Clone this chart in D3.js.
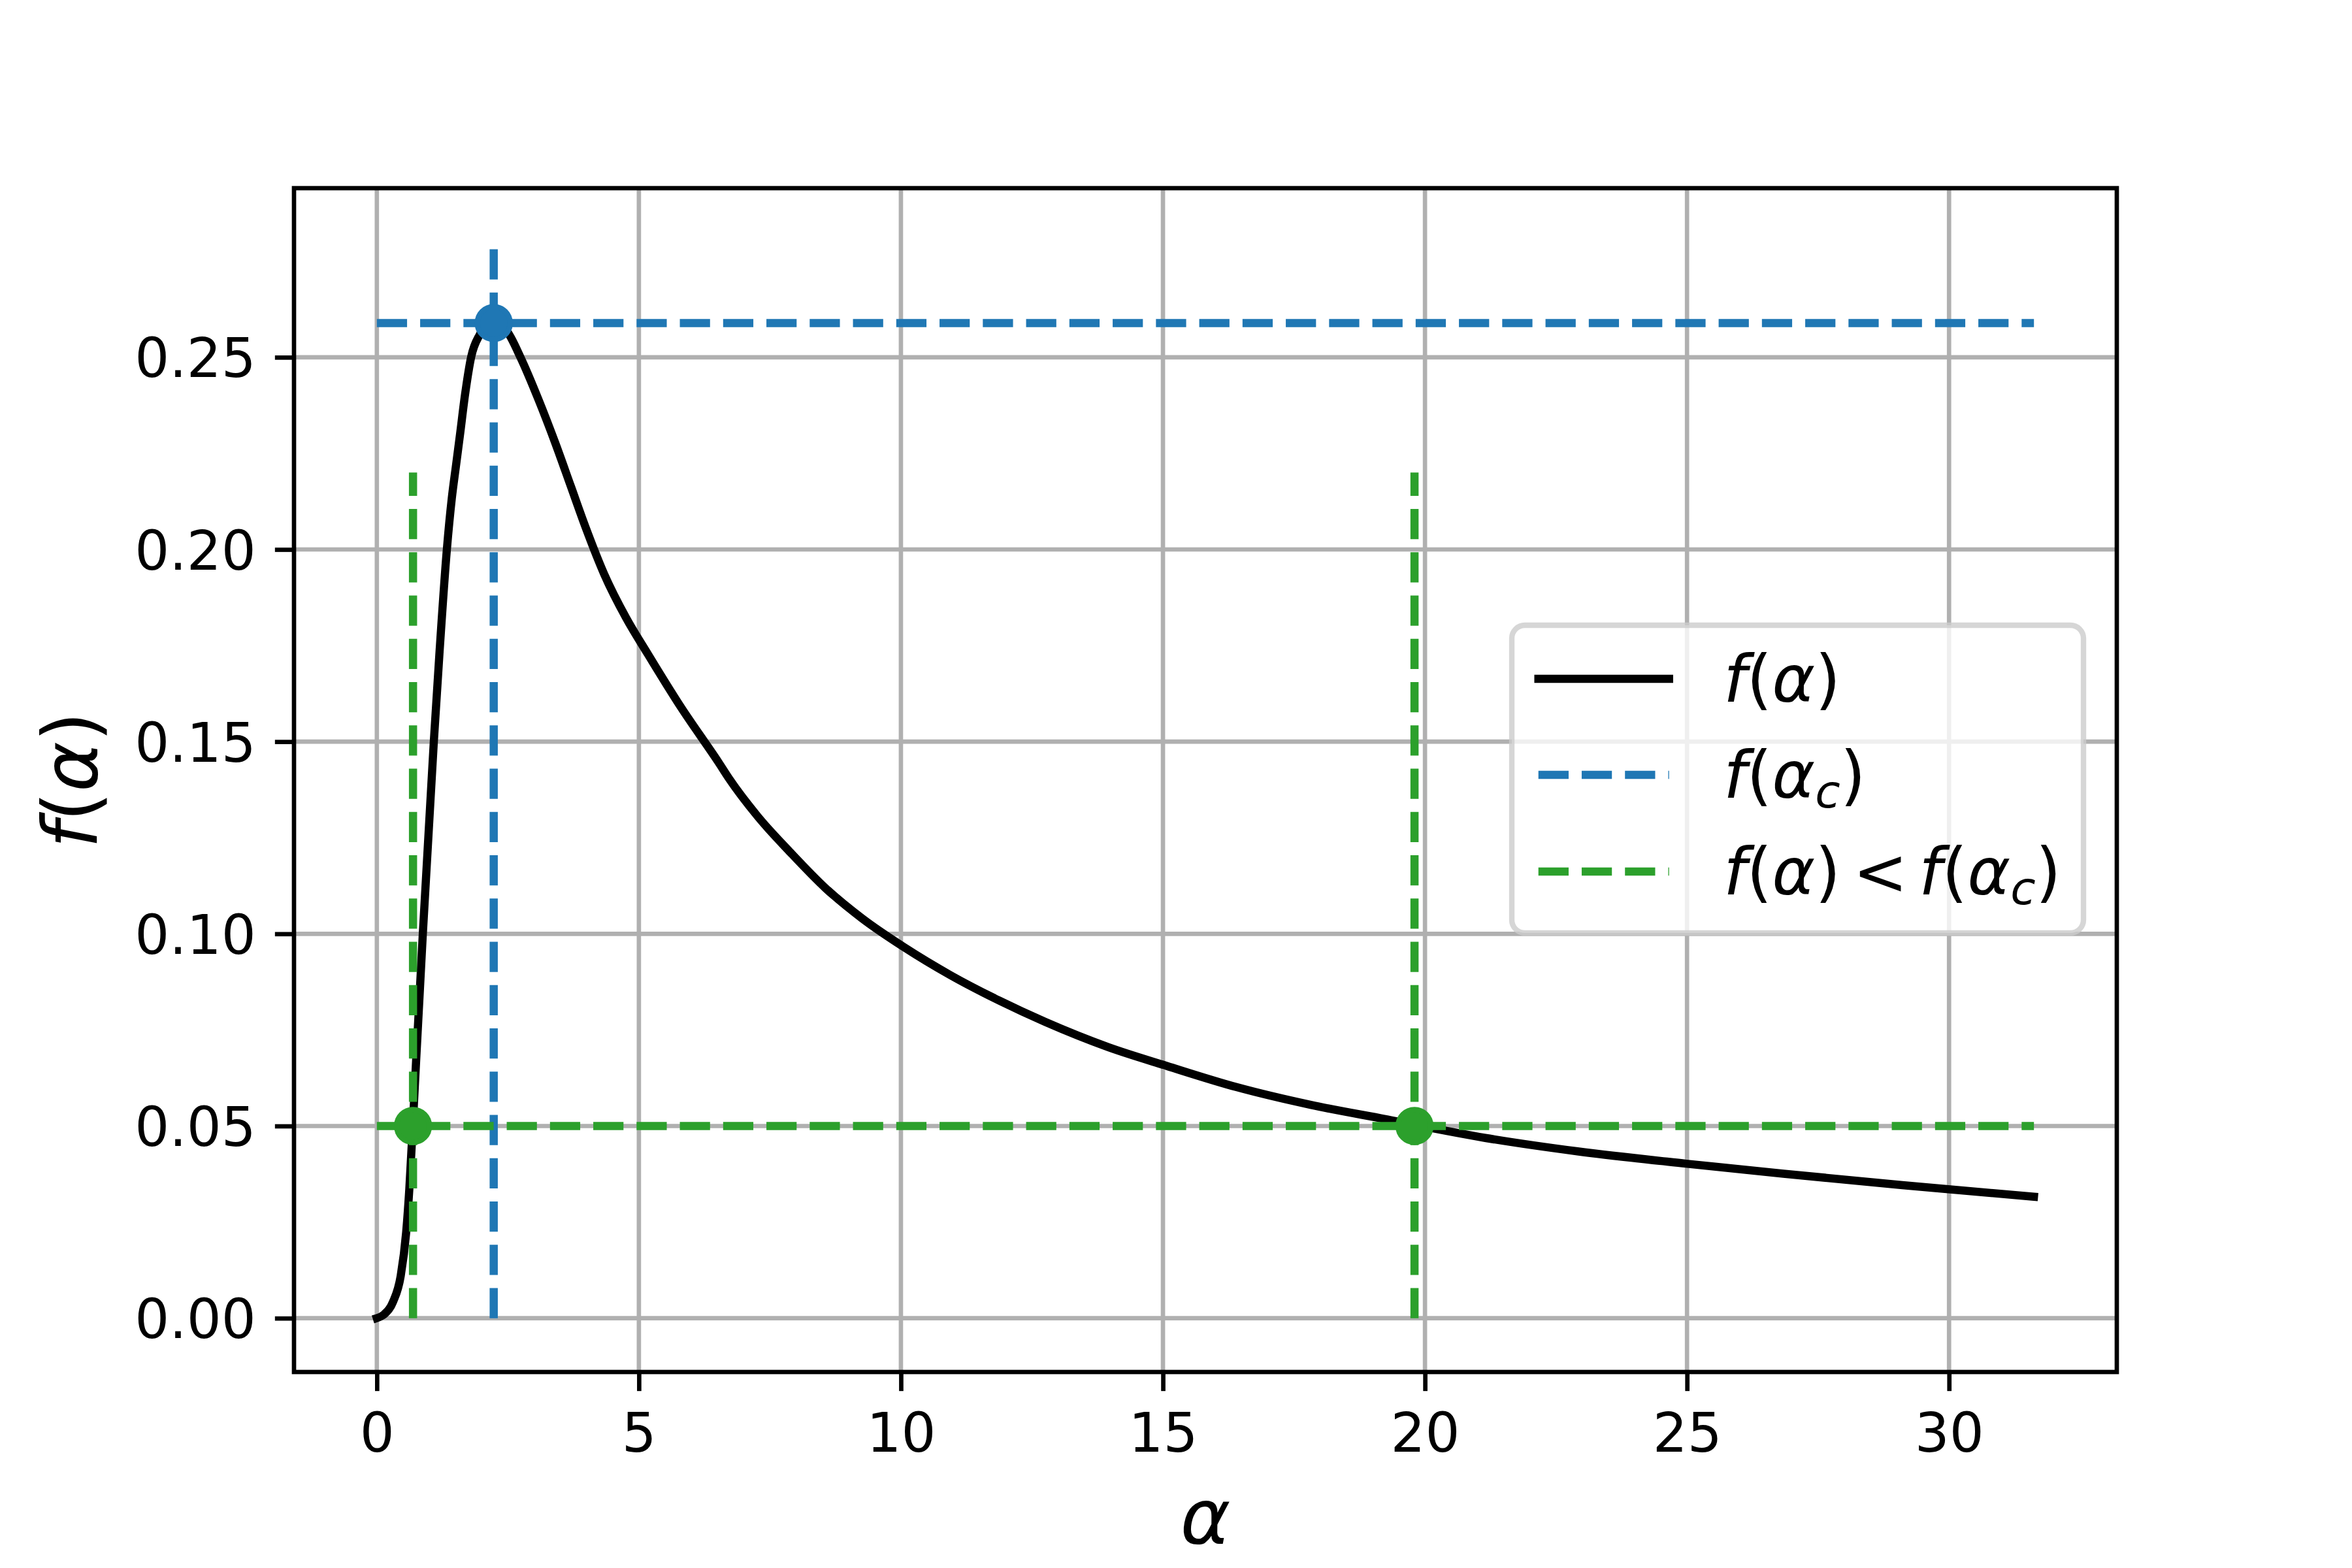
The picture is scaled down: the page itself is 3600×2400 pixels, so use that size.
<!DOCTYPE html>
<html>
<head>
<meta charset="utf-8">
<script src="https://cdnjs.cloudflare.com/ajax/libs/d3/7.8.5/d3.min.js"></script>
<style>
  body { margin: 0; background: #fff; }
  svg { display: block; font-family: "DejaVu Sans", sans-serif; }
</style>
</head>
<body>
<div id="graph"></div>
<script>
// =================================== DATA ===================================

// curve f(alpha)
const alpha = [0, 0.14, 0.31, 0.455, 0.56, 0.62, 0.685, 0.752, 0.818, 0.877,
  1.087, 1.195, 1.336, 1.43, 1.51, 1.585, 1.685, 1.80, 1.96, 2.15,
  2.337, 2.49, 2.74, 3.09, 3.41, 3.70, 3.99, 4.34, 4.76, 5.17,
  5.80, 6.52, 6.73, 7.27, 7.89, 8.56, 9.26, 10.05, 10.95, 11.88, 12.75,
  13.96, 15.08, 16.41, 17.82, 19.24, 21.15, 22.91, 24.98, 26.84, 29.11, 31.62]
const fAlpha = [0, 0.001, 0.0043, 0.011, 0.0224, 0.0337, 0.050, 0.0677, 0.0847, 0.100,
  0.150, 0.1731, 0.200, 0.2133, 0.2218, 0.2297, 0.2405, 0.2501, 0.2558, 0.2588,
  0.2583, 0.2566, 0.250, 0.2388, 0.2275, 0.2165, 0.2055, 0.1935, 0.1821, 0.1728,
  0.1590, 0.1446, 0.1402, 0.1305, 0.1212, 0.1119, 0.1040, 0.0966, 0.0892, 0.0826, 0.0771,
  0.0705, 0.0656, 0.0601, 0.0555, 0.0518, 0.0469, 0.0434, 0.0402, 0.0376, 0.0346, 0.0316]

// critical point and the f(alpha) < f(alpha_c) level
const alphaC = 2.23
const fC = 0.2589
const alphaLow = [0.69, 19.8]
const fLow = 0.05
const alphaStart = 0
const alphaEnd = 31.62
const blueTop = 0.28
const greenTop = 0.22

const xTicks = [0, 5, 10, 15, 20, 25, 30]
const yTicks = [0, 0.05, 0.10, 0.15, 0.20, 0.25]

// legend entries (mathtext pieces)
const legendLabels = [
  '<tspan font-style="italic">f</tspan>(<tspan font-style="italic">α</tspan>)',
  '<tspan font-style="italic">f</tspan>(<tspan font-style="italic">α</tspan><tspan font-style="italic" font-size="70" dy="15">c</tspan><tspan dy="-15">)</tspan>',
  '<tspan font-style="italic">f</tspan>(<tspan font-style="italic">α</tspan>)<tspan dx="19">&lt;</tspan><tspan dx="17" font-style="italic">f</tspan>(<tspan font-style="italic">α</tspan><tspan font-style="italic" font-size="70" dy="15">c</tspan><tspan dy="-15">)</tspan>'
]

// =================================== GRAPH SETTINGS ===================================

const PT = 600 / 72
const width = 3600
const height = 2400
const margin = { top: 288, right: 360, bottom: 300, left: 450 }
const blue = '#1f77b4'
const green = '#2ca02c'
const dash = (46.25) + ',' + (20)

const svg = d3.select('#graph')
  .append('svg')
  .attr('width', width)
  .attr('height', height)

svg.append('rect').attr('width', width).attr('height', height).attr('fill', '#fff')

// 5% margins like matplotlib autoscale
const x = d3.scaleLinear()
  .domain([-1.581, 33.201])
  .range([margin.left, width - margin.right])
const y = d3.scaleLinear()
  .domain([-0.014, 0.294])
  .range([height - margin.bottom, margin.top])

// =================================== GRID ===================================

const grid = svg.append('g').attr('class', 'grid')
  .attr('stroke', '#b0b0b0')
  .attr('stroke-width', 0.8 * PT)

grid.selectAll('.gx').data(xTicks).enter().append('line')
  .attr('x1', d => x(d)).attr('x2', d => x(d))
  .attr('y1', margin.top).attr('y2', height - margin.bottom)
grid.selectAll('.gy').data(yTicks).enter().append('line')
  .attr('y1', d => y(d)).attr('y2', d => y(d))
  .attr('x1', margin.left).attr('x2', width - margin.right)

// =================================== CURVE ===================================

const pts = alpha.map((a, i) => [a, fAlpha[i]])
const line = d3.line()
  .x(d => x(d[0]))
  .y(d => y(d[1]))
  .curve(d3.curveMonotoneX)

svg.append('path')
  .datum(pts)
  .attr('d', line)
  .attr('fill', 'none')
  .attr('stroke', '#000')
  .attr('stroke-width', 1.5 * PT)
  .attr('stroke-linecap', 'square')
  .attr('stroke-linejoin', 'round')

// =================================== GUIDE LINES ===================================

function dashed (x1, y1, x2, y2, color) {
  svg.append('line')
    .attr('x1', x(x1)).attr('y1', y(y1))
    .attr('x2', x(x2)).attr('y2', y(y2))
    .attr('stroke', color)
    .attr('stroke-width', 1.5 * PT)
    .attr('stroke-dasharray', dash)
}

// f(alpha_c)
dashed(alphaStart, fC, alphaEnd, fC, blue)
dashed(alphaC, 0, alphaC, blueTop, blue)
svg.append('circle')
  .attr('cx', x(alphaC)).attr('cy', y(fC))
  .attr('r', 3 * PT)
  .attr('fill', blue).attr('stroke', blue).attr('stroke-width', PT)

// f(alpha) < f(alpha_c)
dashed(alphaStart, fLow, alphaEnd, fLow, green)
alphaLow.forEach(a => dashed(a, 0, a, greenTop, green))
svg.selectAll('.gdot').data(alphaLow).enter().append('circle')
  .attr('cx', d => x(d)).attr('cy', y(fLow))
  .attr('r', 3 * PT)
  .attr('fill', green).attr('stroke', green).attr('stroke-width', PT)

// =================================== AXES ===================================

const xAxis = svg.append('g')
  .attr('transform', `translate(0,${height - margin.bottom})`)
  .call(d3.axisBottom(x).tickValues(xTicks).tickSize(3.5 * PT).tickSizeOuter(0))
const yAxis = svg.append('g')
  .attr('transform', `translate(${margin.left},0)`)
  .call(d3.axisLeft(y).tickValues(yTicks).tickFormat(d3.format('.2f')).tickSize(3.5 * PT).tickSizeOuter(0))

;[xAxis, yAxis].forEach(g => {
  g.select('.domain').remove()
  g.selectAll('.tick line').attr('stroke', '#000').attr('stroke-width', 0.8 * PT)
  g.selectAll('.tick text')
    .attr('font-family', '"DejaVu Sans", sans-serif')
    .attr('font-size', 10 * PT)
    .attr('fill', '#000')
})
xAxis.selectAll('.tick text').attr('dy', null).attr('y', 122)
yAxis.selectAll('.tick text').attr('dy', null).attr('x', -7 * PT).attr('y', 30)

// spines
svg.append('rect')
  .attr('x', margin.left).attr('y', margin.top)
  .attr('width', width - margin.left - margin.right)
  .attr('height', height - margin.top - margin.bottom)
  .attr('fill', 'none')
  .attr('stroke', '#000')
  .attr('stroke-width', 0.8 * PT)

// =================================== LABELS ===================================

svg.append('text')
  .attr('x', (margin.left + width - margin.right) / 2)
  .attr('y', 2362)
  .attr('text-anchor', 'middle')
  .attr('font-size', 14 * PT)
  .attr('font-style', 'italic')
  .text('α')

svg.append('text')
  .attr('transform', `translate(148,${(margin.top + height - margin.bottom) / 2}) rotate(-90)`)
  .attr('text-anchor', 'middle')
  .attr('font-size', 14 * PT)
  .html('<tspan font-style="italic">f</tspan>(<tspan font-style="italic">α</tspan>)')

// =================================== LEGEND ===================================

const legend = svg.append('g').attr('class', 'legend')
legend.append('rect')
  .attr('x', 2314).attr('y', 957)
  .attr('width', 875).attr('height', 471)
  .attr('rx', 20).attr('ry', 20)
  .attr('fill', '#fff').attr('fill-opacity', 0.8)
  .attr('stroke', '#ccc').attr('stroke-opacity', 0.8)
  .attr('stroke-width', PT)

const rows = [
  { color: '#000', dashed: false, cy: 1039 },
  { color: blue, dashed: true, cy: 1186 },
  { color: green, dashed: true, cy: 1334 }
]

rows.forEach((r, i) => {
  legend.append('line')
    .attr('x1', 2354.7).attr('x2', 2554.7)
    .attr('y1', r.cy).attr('y2', r.cy)
    .attr('stroke', r.color)
    .attr('stroke-width', 1.5 * PT)
    .attr('stroke-linecap', r.dashed ? 'butt' : 'square')
    .attr('stroke-dasharray', r.dashed ? dash : null)
  legend.append('text')
    .attr('x', 2638)
    .attr('y', r.cy + 35)
    .attr('font-size', 12 * PT)
    .html(legendLabels[i])
})
</script>
</body>
</html>
